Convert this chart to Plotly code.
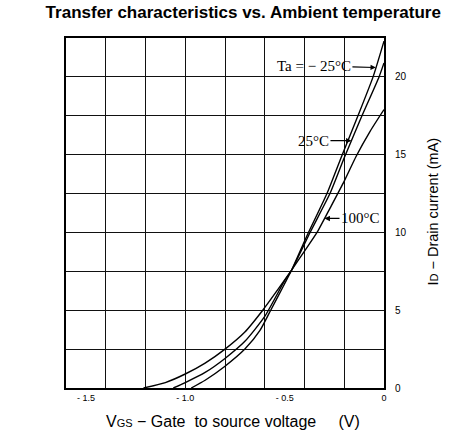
import numpy as np
import plotly.graph_objects as go

# Transfer characteristics: drain current (mA) vs gate-source voltage (V)
vgs_m25 = [-0.97, -0.9, -0.8, -0.7, -0.624, -0.57, -0.5, -0.464, -0.387, -0.287, -0.21, -0.131, -0.055, 0.0]
id_m25 = [0.0, 0.5, 1.4, 2.5, 3.7, 5.0, 6.7, 7.6, 9.8, 12.5, 15.0, 17.5, 20.0, 22.3]

vgs_25 = [-1.06, -1.0, -0.9, -0.8, -0.7, -0.6, -0.5, -0.464, -0.372, -0.272, -0.2, -0.111, -0.025, 0.0]
id_25 = [0.0, 0.35, 1.0, 1.9, 3.0, 4.6, 6.9, 7.6, 10.0, 12.5, 14.8, 17.5, 20.0, 20.9]

vgs_100 = [-1.21, -1.1, -1.0, -0.9, -0.8, -0.7, -0.61, -0.53, -0.464, -0.4, -0.337, -0.27, -0.2, -0.14, -0.07, 0.0]
id_100 = [0.0, 0.35, 0.9, 1.6, 2.5, 3.6, 5.0, 6.4, 7.6, 8.8, 10.0, 11.6, 13.3, 14.9, 16.5, 17.9]

x_tickvals = [-1.5, -1.0, -0.5, 0.0]
x_ticktext = ["- 1.5", "- 1.0", "- 0.5", "0"]
y_tickvals = [0, 5, 10, 15, 20]
y_ticktext = ["0", "5", "10", "15", "20"]

fig = go.Figure()
for vx, iy in [(vgs_m25, id_m25), (vgs_25, id_25), (vgs_100, id_100)]:
    fig.add_trace(go.Scatter(
        x=vx, y=iy, mode="lines",
        line=dict(color="#000", width=1.4, shape="spline", smoothing=0.6),
        showlegend=False, hoverinfo="skip",
    ))


def on_curve(vx, iy, current):
    """Gate voltage at which a curve reaches the given drain current."""
    return float(np.interp(current, iy, vx))


serif = dict(family="Liberation Serif, Times New Roman, serif", size=15, color="#000")
arrow = dict(showarrow=True, arrowhead=2, arrowsize=0.9, arrowwidth=1.2, arrowcolor="#000")

# Temperature labels with arrows to their curves
fig.add_annotation(x=on_curve(vgs_m25, id_m25, 20.6), y=20.6, ax=-62, ay=-2,
                   text="Ta = \u2212 25\u00b0C", font=serif, **arrow)
fig.add_annotation(x=on_curve(vgs_25, id_25, 15.9), y=15.9, ax=-38, ay=0,
                   text="25\u00b0C", font=serif, **arrow)
fig.add_annotation(x=on_curve(vgs_100, id_100, 10.9), y=10.9, ax=36, ay=0,
                   text="100\u00b0C", font=serif, **arrow)

sans = "Liberation Sans, Arial, sans-serif"

# Axis titles
fig.add_annotation(xref="paper", yref="paper", x=0.525, y=-0.095, yanchor="middle",
                   showarrow=False,
                   text="V<span style='font-size:11px'>GS</span> \u2212 Gate&nbsp; to source voltage&nbsp;&nbsp;&nbsp;&nbsp; (V)",
                   font=dict(family=sans, size=16, color="#000"))
fig.add_annotation(xref="paper", yref="paper", x=1.153, y=0.503, xanchor="center",
                   showarrow=False, textangle=-90,
                   text="I<span style='font-size:11px'>D</span> \u2212 Drain current (mA)",
                   font=dict(family=sans, size=14.5, color="#000"))

grid = dict(showgrid=True, gridcolor="#111", gridwidth=1.3)
fig.update_xaxes(
    range=[-1.6, 0], tickvals=x_tickvals, ticktext=x_ticktext, showgrid=False,
    ticks="", tickfont=dict(family=sans, size=9, color="#000"),
    minor=dict(tick0=0, dtick=0.2, **grid),
    showline=True, linecolor="#000", linewidth=2, mirror=True, zeroline=False,
)
fig.update_yaxes(
    range=[0, 22.5], side="right", tickvals=y_tickvals, ticktext=y_ticktext,
    showgrid=False, ticks="", ticklabelstandoff=7,
    tickfont=dict(family=sans, size=10, color="#000"),
    minor=dict(tick0=0, dtick=2.5, **grid),
    showline=True, linecolor="#000", linewidth=2, mirror=True, zeroline=False,
)

fig.update_layout(
    width=466, height=434,
    margin=dict(l=66, r=82, t=38, b=46),
    paper_bgcolor="#fff", plot_bgcolor="#fff",
    title=dict(text="<b>Transfer characteristics vs. Ambient temperature</b>",
               x=0.522, xanchor="center", y=0.972, yanchor="middle",
               font=dict(family=sans, size=17, color="#000")),
)

fig.write_html("out.html")
